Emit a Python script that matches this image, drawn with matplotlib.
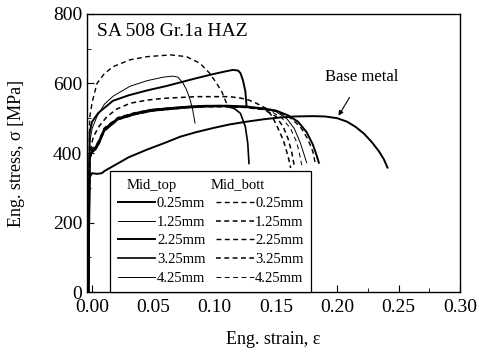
import matplotlib
matplotlib.use("Agg")
import matplotlib.pyplot as plt
from matplotlib.lines import Line2D
from matplotlib.ticker import MultipleLocator

plt.rcParams['font.family'] = ['Liberation Serif', 'DejaVu Serif']

# --- data (strain, stress MPa) ---

base_x = [-0.003, -0.002, 0.000, 0.004, 0.008, 0.010, 0.017, 0.030, 0.045, 0.060, 0.072, 0.085,
          0.099, 0.112, 0.126, 0.140, 0.153, 0.165, 0.180, 0.190, 0.200, 0.208, 0.215, 0.222,
          0.228, 0.234, 0.238, 0.241]
base_y = [0, 330, 342, 340, 342, 348, 362, 388, 410, 430, 447, 460,
          472, 482, 490, 497, 502, 505, 506, 505, 500, 490, 475, 455,
          432, 405, 382, 358]

# Mid_top (solid)
top_025_x = [-0.003, -0.002, 0.000, 0.005, 0.017, 0.030, 0.045, 0.060, 0.072, 0.085, 0.099,
             0.108, 0.115, 0.119, 0.121, 0.123, 0.125, 0.126]
top_025_y = [0, 460, 490, 515, 550, 566, 580, 592, 603, 615, 627,
             634, 639, 637, 630, 610, 578, 535]

top_125_x = [-0.003, -0.002, 0.000, 0.004, 0.010, 0.017, 0.031, 0.045, 0.058, 0.066, 0.070,
             0.074, 0.077, 0.080, 0.082, 0.084]
top_125_y = [0, 430, 470, 505, 540, 563, 592, 608, 618, 621, 618,
             602, 582, 553, 525, 486]

top_225_x = [-0.003, -0.002, 0.000, 0.003, 0.006, 0.010, 0.021, 0.035, 0.049, 0.076, 0.092,
             0.110, 0.125, 0.140, 0.150, 0.160, 0.168, 0.175, 0.180, 0.183, 0.185]
top_225_y = [0, 385, 405, 412, 432, 466, 498, 513, 523, 532, 535,
             536, 534, 528, 522, 508, 490, 460, 425, 395, 372]

top_325_x = [-0.003, -0.002, 0.000, 0.003, 0.006, 0.010, 0.021, 0.035, 0.049, 0.076, 0.092,
             0.105, 0.110, 0.116, 0.121, 0.125, 0.127, 0.128]
top_325_y = [0, 390, 408, 418, 438, 470, 500, 515, 525, 533, 536,
             536, 534, 528, 514, 476, 428, 370]

top_425_x = [-0.003, -0.002, 0.000, 0.003, 0.006, 0.010, 0.021, 0.035, 0.049, 0.076, 0.092,
             0.110, 0.125, 0.140, 0.150, 0.159, 0.165, 0.170, 0.173, 0.175]
top_425_y = [0, 380, 400, 410, 428, 462, 495, 510, 520, 529, 532,
             533, 531, 526, 519, 498, 470, 428, 395, 372]

# Mid_bott (dashed)
bott_025_x = [-0.003, -0.002, 0.000, 0.004, 0.010, 0.017, 0.031, 0.045, 0.064, 0.077, 0.088,
              0.096, 0.102, 0.106, 0.110]
bott_025_y = [0, 500, 545, 600, 628, 648, 668, 677, 682, 677, 658,
              629, 598, 575, 540]

bott_125_x = [-0.003, -0.002, 0.001, 0.006, 0.012, 0.020, 0.031, 0.045, 0.058, 0.085, 0.112,
              0.121, 0.128, 0.134, 0.142, 0.147, 0.151, 0.156, 0.160, 0.162]
bott_125_y = [0, 400, 447, 478, 504, 526, 543, 552, 557, 562, 562,
              558, 552, 543, 528, 505, 476, 437, 389, 357]

bott_225_x = [-0.003, -0.002, 0.000, 0.003, 0.006, 0.010, 0.021, 0.035, 0.049, 0.076, 0.092,
              0.110, 0.125, 0.140, 0.150, 0.162, 0.170, 0.176, 0.180, 0.182]
bott_225_y = [0, 395, 415, 420, 440, 472, 502, 516, 525, 533, 535,
              535, 532, 526, 520, 500, 475, 440, 405, 372]

bott_325_x = [-0.003, -0.002, 0.000, 0.003, 0.006, 0.010, 0.021, 0.035, 0.049, 0.076, 0.092,
              0.110, 0.125, 0.140, 0.150, 0.156, 0.160, 0.163, 0.165]
bott_325_y = [0, 385, 402, 412, 430, 464, 496, 511, 521, 530, 533,
              533, 531, 525, 505, 475, 440, 400, 362]

bott_425_x = [-0.003, -0.002, 0.000, 0.003, 0.006, 0.010, 0.021, 0.035, 0.049, 0.076, 0.092,
              0.110, 0.125, 0.145, 0.155, 0.162, 0.167, 0.170, 0.171]
bott_425_y = [0, 390, 410, 416, 436, 468, 499, 514, 524, 532, 534,
              534, 532, 522, 500, 470, 430, 385, 365]

sizes = ["0.25mm", "1.25mm", "2.25mm", "3.25mm", "4.25mm"]
top_widths = [1.4, 0.7, 1.4, 1.2, 0.7]
bott_widths = [1.0, 1.1, 1.0, 1.1, 0.7]

fig = plt.figure(figsize=(4.79, 3.55), dpi=100)
ax = fig.add_axes([0.182, 0.177, 0.778, 0.784])

ax.plot(base_x, base_y, color="black", lw=1.4)

top_curves = [(top_025_x, top_025_y), (top_125_x, top_125_y), (top_225_x, top_225_y),
              (top_325_x, top_325_y), (top_425_x, top_425_y)]
bott_curves = [(bott_025_x, bott_025_y), (bott_125_x, bott_125_y), (bott_225_x, bott_225_y),
               (bott_325_x, bott_325_y), (bott_425_x, bott_425_y)]

top_handles = []
bott_handles = []
for (x, y), w in zip(top_curves, top_widths):
    h, = ax.plot(x, y, color="black", lw=w)
    top_handles.append(h)
for (x, y), w in zip(bott_curves, bott_widths):
    h, = ax.plot(x, y, color="black", lw=w, dashes=(3.5 / w, 2.5 / w))
    bott_handles.append(h)

ax.set_xlim(-0.004, 0.30)
ax.set_ylim(0, 800)
ax.xaxis.set_major_locator(MultipleLocator(0.05))
ax.xaxis.set_minor_locator(MultipleLocator(0.025))
ax.yaxis.set_major_locator(MultipleLocator(200))
ax.yaxis.set_minor_locator(MultipleLocator(100))
ax.xaxis.set_major_formatter(plt.FuncFormatter(lambda v, p: "{:.2f}".format(v)))
ax.tick_params(which="both", direction="in", top=False, right=False, labelsize=14)
ax.tick_params(axis="x", pad=5)
ax.tick_params(which="major", length=5)
ax.tick_params(which="minor", length=3)
for s in ax.spines.values():
    s.set_linewidth(1.0)

ax.set_xlabel("Eng. strain, ε", fontsize=13, labelpad=11)
ax.set_ylabel("Eng. stress, σ [MPa]", fontsize=13, labelpad=20)

ax.text(0.027, 0.935, "SA 508 Gr.1a HAZ", transform=ax.transAxes, fontsize=14,
        va="center", ha="left")

ax.annotate("Base metal", xy=(0.201, 507), xytext=(0.220, 618), fontsize=12,
            ha="center", va="center",
            arrowprops=dict(arrowstyle="-|>", color="black", lw=0.8, shrinkA=8, shrinkB=0,
                            mutation_scale=7))

blank = Line2D([], [], linestyle="none")
handles = [blank] + top_handles + [blank] + bott_handles
labels = [" "] + sizes + [" "] + sizes
leg = ax.legend(handles, labels, ncol=2, loc="lower left", bbox_to_anchor=(0.062, 0.0),
                borderaxespad=0, fontsize=10.5, handlelength=2.6, handletextpad=0.1,
                columnspacing=0.7, labelspacing=0.38, borderpad=0.5, fancybox=False,
                framealpha=1, edgecolor="black")
leg.get_frame().set_linewidth(0.9)
leg.set_zorder(5)

ax.text(0.107, 0.385, "Mid_top", transform=ax.transAxes, fontsize=10.5, va="center", ha="left",
        zorder=6)
ax.text(0.330, 0.385, "Mid_bott", transform=ax.transAxes, fontsize=10.5, va="center", ha="left",
        zorder=6)

fig.savefig("out.png", dpi=100)
